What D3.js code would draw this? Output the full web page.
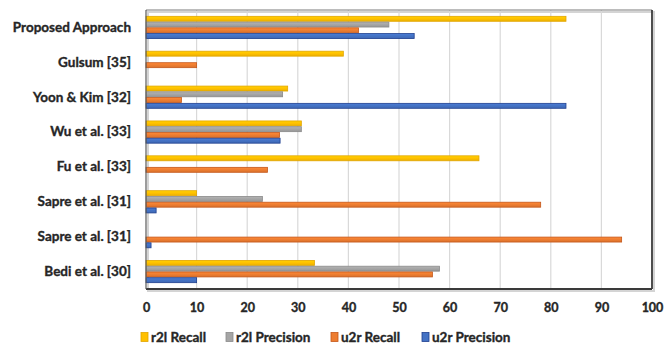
<!DOCTYPE html>
<html>
<head>
<meta charset="utf-8">
<script src="https://cdn.jsdelivr.net/npm/d3@7"></script>
<style>
  html, body { margin: 0; padding: 0; background: #fff; }
  svg text { font-family: Lato, "Open Sans", sans-serif; font-weight: bold; fill: #262626; stroke: #262626; stroke-width: 0.35px; }
</style>
</head>
<body>
<svg id="chart" width="664" height="344"></svg>
<script>
// Methods compared (top to bottom)
const categories = [
  "Proposed Approach",
  "Gulsum [35]",
  "Yoon & Kim [32]",
  "Wu et al. [33]",
  "Fu et al. [33]",
  "Sapre et al. [31]",
  "Sapre et al. [31] ",
  "Bedi et al. [30]"
];

const seriesNames = ["r2l Recall", "r2l Precision", "u2r Recall", "u2r Precision"];

const r2lRecall    = [83, 39, 28, 30.7, 65.8, 10, 0, 33.3];
const r2lPrecision = [48, 0, 27, 30.7, 0, 23, 0, 58];
const u2rRecall    = [42, 10, 7, 26.4, 24, 78, 94, 56.6];
const u2rPrecision = [53, 0, 83, 26.5, 0, 2, 1, 10];

const xTicks = [0, 10, 20, 30, 40, 50, 60, 70, 80, 90, 100];

const seriesValues = [r2lRecall, r2lPrecision, u2rRecall, u2rPrecision];
const fills   = ["#FFC000", "#A5A5A5", "#ED7D31", "#4472C4"];
const strokes = ["#E2A500", "#8A8A8A", "#C4571A", "#1F3F8F"];
const fontStack = 'Lato, "Open Sans", sans-serif';

const svg = d3.select("#chart");
const plot = { left: 146, right: 652, top: 10, bottom: 289 };

const x = d3.scaleLinear().domain([0, 100]).range([plot.left, plot.right]);
const y = d3.scaleBand().domain(categories).range([plot.top, plot.bottom])
  .paddingInner(0.34).paddingOuter(0.17);
const inner = d3.scaleBand().domain(seriesNames).range([0, y.bandwidth()]).padding(0);

// soft drop shadow of the plot frame
svg.append("rect")
  .attr("x", plot.left + 2).attr("y", plot.top + 2)
  .attr("width", plot.right - plot.left).attr("height", plot.bottom - plot.top)
  .attr("fill", "none").attr("stroke", "#d4d4d4").attr("stroke-width", 2);

// vertical gridlines
svg.append("g")
  .selectAll("line")
  .data(xTicks.slice(1, -1))
  .join("line")
  .attr("x1", d => x(d)).attr("x2", d => x(d))
  .attr("y1", plot.top).attr("y2", plot.bottom)
  .attr("stroke", "#d9d9d9").attr("stroke-width", 1.2);

// gradients giving the bars a slight sheen
const defs = svg.append("defs");
fills.forEach((c, i) => {
  const g = defs.append("linearGradient").attr("id", "grad" + i)
    .attr("x1", 0).attr("y1", 0).attr("x2", 0).attr("y2", 1);
  g.append("stop").attr("offset", "0%").attr("stop-color", d3.color(c).brighter(0.25));
  g.append("stop").attr("offset", "50%").attr("stop-color", c);
  g.append("stop").attr("offset", "100%").attr("stop-color", d3.color(c).darker(0.25));
});

// bars
const groups = svg.append("g")
  .selectAll("g")
  .data(categories)
  .join("g")
  .attr("transform", d => `translate(0,${y(d)})`);

groups.selectAll("rect")
  .data((d, ci) => seriesNames.map((s, si) => ({ s, si, v: seriesValues[si][ci] })).filter(e => e.v > 0))
  .join("rect")
  .attr("x", x(0))
  .attr("y", d => inner(d.s) + 0.4)
  .attr("width", d => x(d.v) - x(0))
  .attr("height", inner.bandwidth() - 0.8)
  .attr("fill", d => `url(#grad${d.si})`)
  .attr("stroke", d => strokes[d.si])
  .attr("stroke-width", 0.8);

// plot frame
svg.append("line").attr("x1", plot.left).attr("x2", plot.right)
  .attr("y1", plot.top).attr("y2", plot.top).attr("stroke", "#7a7a7a").attr("stroke-width", 1.2);
svg.append("line").attr("x1", plot.right).attr("x2", plot.right)
  .attr("y1", plot.top).attr("y2", plot.bottom).attr("stroke", "#3a3a3a").attr("stroke-width", 1.8);
svg.append("line").attr("x1", plot.left).attr("x2", plot.right)
  .attr("y1", plot.bottom).attr("y2", plot.bottom).attr("stroke", "#3a3a3a").attr("stroke-width", 1.8);
svg.append("line").attr("x1", plot.left).attr("x2", plot.left)
  .attr("y1", plot.top).attr("y2", plot.bottom).attr("stroke", "#5a5a5a").attr("stroke-width", 1.2);

// x axis tick labels
const xAxis = d3.axisBottom(x).tickValues(xTicks).tickSize(0).tickPadding(0);
const xg = svg.append("g").attr("transform", `translate(0,${plot.bottom + 14})`).call(xAxis);
xg.select(".domain").remove();
xg.selectAll("text").attr("font-size", 12.5).attr("dy", "0.71em")
  .style("font-family", fontStack).style("font-weight", "bold").attr("fill", "#262626");

// category labels
const yAxis = d3.axisLeft(y).tickSize(0).tickPadding(0);
const yg = svg.append("g").attr("transform", `translate(131,0)`).call(yAxis);
yg.select(".domain").remove();
yg.selectAll("text").attr("font-size", 13.5)
  .style("font-family", fontStack).style("font-weight", "bold").attr("fill", "#262626");

// legend
const legendX = [141, 226, 331, 422];
const legend = svg.append("g").attr("transform", "translate(0,337)");
seriesNames.forEach((s, i) => {
  legend.append("rect").attr("x", legendX[i]).attr("y", -4.5).attr("width", 7).attr("height", 9)
    .attr("fill", fills[i]).attr("stroke", strokes[i]).attr("stroke-width", 0.8);
  legend.append("text").attr("x", legendX[i] + 10).attr("y", 0).attr("dy", "0.35em")
    .attr("font-size", 13.5).text(s);
});
</script>
</body>
</html>
